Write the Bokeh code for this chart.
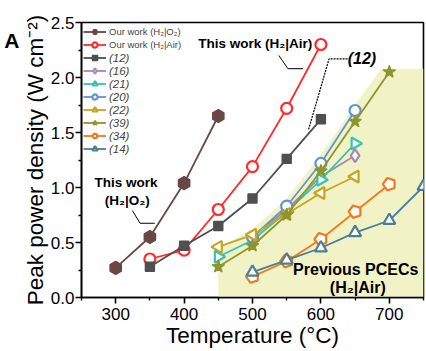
import math
from bokeh.plotting import figure
from bokeh.models import Legend, LegendItem, Label, FixedTicker, Range1d, LinearAxis
from bokeh.core.properties import value
from bokeh.embed import file_html
from bokeh.resources import INLINE

# ---------------- data ----------------
o2_T = [300, 350, 400, 450]
o2_P = [0.27, 0.55, 1.04, 1.65]

air_T = [350, 400, 450, 500, 550, 600]
air_P = [0.35, 0.43, 0.80, 1.19, 1.72, 2.30]

r12_T = [350, 400, 450, 500, 550, 600]
r12_P = [0.28, 0.47, 0.65, 0.90, 1.26, 1.62]

r16_T = [500, 550, 600, 650]
r16_P = [0.55, 0.80, 1.10, 1.29]

r21_T = [450, 500, 550, 600, 650]
r21_P = [0.37, 0.52, 0.78, 1.07, 1.40]

r20_T = [500, 550, 600, 650]
r20_P = [0.55, 0.83, 1.22, 1.70]

r22_T = [450, 500, 550, 600, 650]
r22_P = [0.46, 0.57, 0.76, 0.95, 1.10]

r39_T = [450, 500, 550, 600, 650, 700]
r39_P = [0.28, 0.47, 0.75, 1.15, 1.60, 2.05]

r34_T = [500, 550, 600, 650, 700]
r34_P = [0.19, 0.33, 0.53, 0.78, 1.03]

r14_T = [500, 550, 600, 650, 700, 750]
r14_P = [0.23, 0.34, 0.45, 0.59, 0.70, 1.01]

shade_T = [450, 450, 500, 550, 600, 650, 688, 750, 750]
shade_P = [0.0, 0.45, 0.62, 0.90, 1.30, 1.75, 2.08, 2.08, 0.0]

x_ticks = [300, 400, 500, 600, 700]
y_ticks = [0.0, 0.5, 1.0, 1.5, 2.0, 2.5]

FONT = "Liberation Sans"

p = figure(width=426, height=351, output_backend="svg", toolbar_location=None,
           x_range=Range1d(250, 750), y_range=Range1d(0, 2.5),
           min_border_left=81, min_border_right=3, min_border_top=22, min_border_bottom=54)
p.background_fill_color = "white"
p.border_fill_color = "white"
p.outline_line_color = "black"
p.outline_line_width = 1.6
p.grid.visible = False

for ax in (p.xaxis, p.yaxis):
    ax.axis_line_width = 1.6
    ax.major_tick_line_width = 1.6
    ax.minor_tick_line_width = 1.4
    ax.major_tick_out = 6
    ax.major_tick_in = 0
    ax.minor_tick_out = 3
    ax.minor_tick_in = 0
    ax.major_label_text_font = FONT
    ax.major_label_text_font_size = "17px"
    ax.major_label_text_color = "black"
    ax.axis_label_text_font = FONT
    ax.axis_label_text_font_style = "normal"
    ax.axis_label_text_color = "black"
    ax.axis_label_text_font_size = "22.5px"

p.xaxis.ticker = FixedTicker(ticks=x_ticks, minor_ticks=[250, 350, 450, 550, 650, 750])
p.yaxis.ticker = FixedTicker(ticks=y_ticks, minor_ticks=[0.25, 0.75, 1.25, 1.75, 2.25])
p.yaxis.major_label_overrides = {t: f"{t:.1f}" for t in y_ticks}
p.xaxis.major_label_standoff = 4
p.yaxis.major_label_standoff = 1
p.xaxis.axis_label = "Temperature (°C)"
p.xaxis.axis_label_standoff = 0
p.yaxis.axis_label = "Peak power density (W cm⁻²)"
p.yaxis.axis_label_standoff = 0

# panel letter "A" as the label of an extra, bare axis on the far left
a_axis = LinearAxis(ticker=FixedTicker(ticks=[2.336], minor_ticks=[]),
                    major_label_overrides={2.336: "A"},
                    axis_line_color=None, major_tick_line_color=None,
                    minor_tick_line_color=None, major_tick_out=0, major_tick_in=0,
                    major_label_standoff=0, major_label_text_font=FONT,
                    major_label_text_font_size="21px", major_label_text_font_style="bold",
                    major_label_text_color="black")
p.add_layout(a_axis, "left")

# shaded region of previous PCECs
p.patch(shade_T, shade_P, fill_color="#f2f2c7", line_color=None)

LW = 1.8
series = [
    # label, T, P, color, marker, angle, filled, size, italic
    ("Our work (H₂|O₂)", o2_T, o2_P, "#6b4743", "hex", math.pi / 6, True, 13, False),
    ("Our work (H₂|Air)", air_T, air_P, "#ff2b2b", "circle", 0.0, False, 11, False),
    ("(12)", r12_T, r12_P, "#4f4f4f", "square", 0.0, True, 9, True),
    ("(16)", r16_T, r16_P, "#a88aae", "diamond", 0.0, False, 13, True),
    ("(21)", r21_T, r21_P, "#35c4b2", "triangle", -math.pi / 2, False, 12, True),
    ("(20)", r20_T, r20_P, "#5f95d2", "circle", 0.0, False, 11, True),
    ("(22)", r22_T, r22_P, "#c9a51e", "triangle", math.pi / 2, False, 12, True),
    ("(39)", r39_T, r39_P, "#8c962a", "star", 0.0, True, 13, True),
    ("(34)", r34_T, r34_P, "#f27a1c", "pentagon", 0.0, False, 12, True),
    ("(14)", r14_T, r14_P, "#4a7f98", "triangle", 0.0, False, 12, True),
]

items_normal = []
items_italic = []
for label, T, P, col, mk, ang, filled, size, ital in series:
    lr = p.line(T, P, line_color=col, line_width=LW)
    if mk == "pentagon":
        sr = p.ngon(x=T, y=P, radius=6.5, radius_units="screen", n=5,
                    angle=math.pi / 2, fill_color="white", line_color=col, line_width=2.2)
    else:
        sr = p.scatter(T, P, marker=mk, size=size, angle=ang,
                       fill_color=col if filled else "white", line_color=col,
                       line_width=1.4 if filled else 2.2)
    item = LegendItem(label=label, renderers=[lr, sr])
    (items_italic if ital else items_normal).append(item)

leg1 = Legend(items=items_normal, location=(2, 246), orientation="vertical",
              label_text_font=FONT, label_text_font_size="9.5px",
              glyph_width=23, glyph_height=13, label_height=13, spacing=0,
              label_standoff=3, padding=0, margin=0,
              background_fill_alpha=0, border_line_color=None)
leg2 = Legend(items=items_italic, location=(2, 142), orientation="vertical",
              label_text_font=FONT, label_text_font_size="11.5px", label_text_font_style="italic",
              glyph_width=23, glyph_height=13, label_height=13, spacing=0,
              label_standoff=3, padding=0, margin=0,
              background_fill_alpha=0, border_line_color=None)
p.add_layout(leg1, "center")
p.add_layout(leg2, "center")

# annotations
def lab(x, y, text, size, style="bold"):
    p.add_layout(Label(x=x, y=y, text=text,
                       text_font=FONT, text_font_size=size,
                       text_font_style=style, text_align="center", text_baseline="middle",
                       text_color="black"))

lab(504, 2.31, "This work (H₂|Air)", "13.5px")
lab(660, 2.17, "(12)", "16px", style="bold italic")
lab(315, 1.045, "This work", "13.5px")
lab(317, 0.88, "(H₂|O₂)", "13.5px")
lab(651, 0.255, "Previous PCECs", "16px")
lab(654, 0.09, "(H₂|Air)", "16px")

p.line([538.6, 551.8, 573.8], [2.20, 2.08, 2.08], line_color="black", line_width=1)
p.line([639, 612, 581.6], [2.17, 2.17, 1.52], line_color="black", line_width=1.2, line_dash="2 1")
p.line([324.4, 335.6, 357.1], [0.79, 0.675, 0.675], line_color="black", line_width=1)

open("out.html", "w").write(file_html(p, INLINE))
